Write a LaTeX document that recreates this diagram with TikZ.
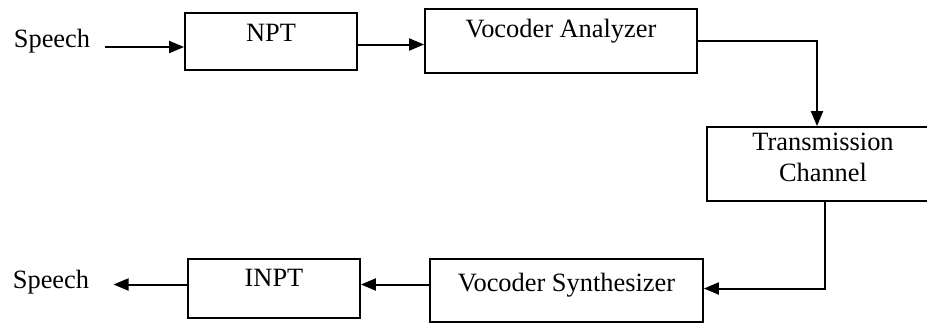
\documentclass[tikz,border=0pt]{standalone}
\usepackage{fontspec}
\setmainfont{Liberation Serif}
\usepackage{tikz}
\usetikzlibrary{arrows.meta,positioning,calc}

\begin{document}
\begin{tikzpicture}[x=0.5pt, y=-0.5pt,
        font=\fontsize{13.2}{15.5}\selectfont,
        blk/.style={draw, line width=0.9pt, inner sep=0pt, anchor=base, align=center},
        lbl/.style={inner xsep=7pt, inner ysep=0pt, anchor=base},
        arr/.style={-{Triangle[length=7.5pt,width=6pt]}, line width=1pt}]
        \useasboundingbox (0,0) rectangle (927,323);
        % upper row
        \node[lbl] (sin) at (52,47) {Speech};
        \node[blk, minimum width=86pt, text height=14.25pt, text depth=14.25pt] (npt) at (271,41.5) {NPT};
        \node[blk, minimum width=136pt, text height=14pt, text depth=18pt] (va) at (561,37) {Vocoder Analyzer};
        \node[blk, minimum width=116pt, text height=27.25pt, text depth=9.75pt] (tc) at (823,181.5) {Transmission\\Channel};
        % lower row
        \node[blk, minimum width=136.5pt, text height=16pt, text depth=15.5pt] (syn) at (566.5,291) {Vocoder Synthesizer};
        \node[blk, minimum width=86pt, text height=13.5pt, text depth=16pt] (inpt) at (274,286) {INPT};
        \node[lbl] (sout) at (51,288) {Speech};
        \draw[arr] (sin.base east) -- (sin.base east -| npt.west);
        \draw[arr] ([yshift=-1.5pt]npt.east) -- ([yshift=-1.5pt]npt.east -| va.west);
        \draw[arr] (va.east) -| ([xshift=-3pt]tc.north);
        \draw[arr] ([xshift=1pt]tc.south) |- ([yshift=1pt]syn.east);
        \draw[arr] ([yshift=3pt]syn.west) -- ([yshift=3pt]syn.west -| inpt.east);
        \draw[arr, shorten >=5pt] ([yshift=2pt]inpt.west) -- ([yshift=2pt]inpt.west -| sout.east);
    \end{tikzpicture}
\end{document}
